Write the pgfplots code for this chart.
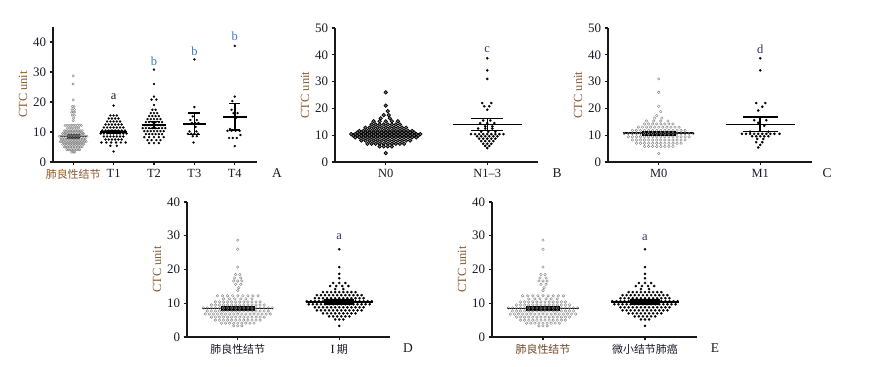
\documentclass[border=0pt]{standalone}
\usepackage{pgfplots}
\pgfplotsset{compat=1.18}
\usepackage{pgfplotstable}
\usepackage{fontspec}
\setmainfont{Liberation Serif}
\newfontfamily\cjk{Noto Sans CJK SC}
\definecolor{tickc}{HTML}{1A1A2A}
\definecolor{brownc}{HTML}{8A5A2E}
\definecolor{bluec}{HTML}{3A78C0}
\definecolor{navyc}{HTML}{2A3560}
\newcommand{\tf}{\fontsize{13}{14}\selectfont}
\newcommand{\lf}{\fontsize{12.5}{14}\selectfont}
\newcommand{\zh}[1]{{\fontsize{11}{12}\selectfont\cjk #1}}

% benign nodules (k = offset in hundredths of category spacing)
\pgfplotstableread[row sep=\\]{
k y\\
0 28.7\\ 0 26.0\\ 0 20.7\\
-2 18.5\\ 2 18.5\\ -3 17.5\\ 3 17.5\\ -4 16.6\\ 0 16.6\\ 4 16.6\\ -2 15.6\\ 3 15.6\\ 1 14.6\\ 0 13.8\\
-20 12.2\\ -15 12.2\\ -10 12.2\\ -5 12.2\\ 0 12.2\\ 5 12.2\\ 10 12.2\\ 15 12.2\\ 20 12.2\\
-14 11.3\\ -8 11.3\\ -3 11.3\\ 3 11.3\\ 8 11.3\\ 14 11.3\\
-22 10.4\\ -18 10.4\\ -14 10.4\\ -10 10.4\\ -6 10.4\\ -2 10.4\\ 2 10.4\\ 6 10.4\\ 10 10.4\\ 14 10.4\\ 18 10.4\\ 22 10.4\\
-26 9.5\\ -22 9.5\\ -18 9.5\\ -14 9.5\\ -10 9.5\\ -6 9.5\\ -2 9.5\\ 2 9.5\\ 6 9.5\\ 10 9.5\\ 14 9.5\\ 18 9.5\\ 22 9.5\\ 26 9.5\\
-34 8.6\\ -30 8.6\\ -26 8.6\\ -22 8.6\\ -18 8.6\\ -14 8.6\\ -10 8.6\\ -6 8.6\\ -2 8.6\\ 2 8.6\\ 6 8.6\\ 10 8.6\\ 14 8.6\\ 18 8.6\\ 22 8.6\\ 26 8.6\\ 30 8.6\\ 34 8.6\\
-30 7.7\\ -26 7.7\\ -22 7.7\\ -18 7.7\\ -14 7.7\\ -10 7.7\\ -6 7.7\\ -2 7.7\\ 2 7.7\\ 6 7.7\\ 10 7.7\\ 14 7.7\\ 18 7.7\\ 22 7.7\\ 26 7.7\\ 30 7.7\\
-32 6.8\\ -28 6.8\\ -24 6.8\\ -20 6.8\\ -16 6.8\\ -12 6.8\\ -8 6.8\\ -4 6.8\\ 0 6.8\\ 4 6.8\\ 8 6.8\\ 12 6.8\\ 16 6.8\\ 20 6.8\\ 24 6.8\\ 28 6.8\\ 32 6.8\\
-26 5.9\\ -22 5.9\\ -18 5.9\\ -14 5.9\\ -10 5.9\\ -6 5.9\\ -2 5.9\\ 2 5.9\\ 6 5.9\\ 10 5.9\\ 14 5.9\\ 18 5.9\\ 22 5.9\\ 26 5.9\\
-22 5.0\\ -18 5.0\\ -14 5.0\\ -10 5.0\\ -6 5.0\\ -2 5.0\\ 2 5.0\\ 6 5.0\\ 10 5.0\\ 14 5.0\\ 18 5.0\\ 22 5.0\\
-16 4.1\\ -12 4.1\\ -8 4.1\\ -4 4.1\\ 0 4.1\\ 4 4.1\\ 8 4.1\\ 12 4.1\\ 16 4.1\\
-4 3.3\\ 0 3.3\\ 4 3.3\\
}\benign

% stage I / small nodule lung cancer
\pgfplotstableread[row sep=\\]{
k y\\
0 26.0\\ 0 20.7\\ 0 18.7\\ 0 17.4\\
-6 16.0\\ 0 16.0\\ 6 16.0\\ -9 15.1\\ -3 15.1\\ 3 15.1\\ 9 15.1\\ -4 14.2\\ 4 14.2\\
-16 13.3\\ -12 13.3\\ -8 13.3\\ -4 13.3\\ 0 13.3\\ 4 13.3\\ 8 13.3\\ 12 13.3\\ 16 13.3\\
-22 12.4\\ -18 12.4\\ -14 12.4\\ -10 12.4\\ -6 12.4\\ -2 12.4\\ 2 12.4\\ 6 12.4\\ 10 12.4\\ 14 12.4\\ 18 12.4\\ 22 12.4\\
-24 11.5\\ -20 11.5\\ -16 11.5\\ -12 11.5\\ -8 11.5\\ -4 11.5\\ 0 11.5\\ 4 11.5\\ 8 11.5\\ 12 11.5\\ 16 11.5\\ 20 11.5\\ 24 11.5\\
-32 10.6\\ -28 10.6\\ -24 10.6\\ -20 10.6\\ -16 10.6\\ -12 10.6\\ -8 10.6\\ -4 10.6\\ 0 10.6\\ 4 10.6\\ 8 10.6\\ 12 10.6\\ 16 10.6\\ 20 10.6\\ 24 10.6\\ 28 10.6\\ 32 10.6\\
-30 9.7\\ -26 9.7\\ -22 9.7\\ -18 9.7\\ -14 9.7\\ -10 9.7\\ -6 9.7\\ -2 9.7\\ 2 9.7\\ 6 9.7\\ 10 9.7\\ 14 9.7\\ 18 9.7\\ 22 9.7\\ 26 9.7\\ 30 9.7\\
-24 8.8\\ -20 8.8\\ -16 8.8\\ -12 8.8\\ -8 8.8\\ -4 8.8\\ 0 8.8\\ 4 8.8\\ 8 8.8\\ 12 8.8\\ 16 8.8\\ 20 8.8\\ 24 8.8\\
-22 7.9\\ -18 7.9\\ -14 7.9\\ -10 7.9\\ -6 7.9\\ -2 7.9\\ 2 7.9\\ 6 7.9\\ 10 7.9\\ 14 7.9\\ 18 7.9\\ 22 7.9\\
-16 7.0\\ -12 7.0\\ -8 7.0\\ -4 7.0\\ 0 7.0\\ 4 7.0\\ 8 7.0\\ 12 7.0\\ 16 7.0\\
-10 6.1\\ -6 6.1\\ -2 6.1\\ 2 6.1\\ 6 6.1\\ 10 6.1\\
-4 5.2\\ 0 5.2\\ 4 5.2\\
0 3.3\\
}\stageone

% T1
\pgfplotstableread[row sep=\\]{
k y\\
0 18.8\\ -8 15.5\\ 0 15.5\\ 8 15.5\\ -12 14.5\\ -4 14.5\\ 4 14.5\\ 12 14.5\\
-16 13.5\\ -8 13.5\\ 0 13.5\\ 8 13.5\\ 16 13.5\\
-20 12.5\\ -12 12.5\\ -4 12.5\\ 4 12.5\\ 12 12.5\\ 20 12.5\\
-24 11.5\\ -16 11.5\\ -8 11.5\\ 0 11.5\\ 8 11.5\\ 16 11.5\\ 24 11.5\\
-28 10.5\\ -20 10.5\\ -12 10.5\\ -4 10.5\\ 4 10.5\\ 12 10.5\\ 20 10.5\\ 28 10.5\\
-32 9.5\\ -24 9.5\\ -16 9.5\\ -8 9.5\\ 0 9.5\\ 8 9.5\\ 16 9.5\\ 24 9.5\\ 32 9.5\\
-24 8.5\\ -16 8.5\\ -8 8.5\\ 0 8.5\\ 8 8.5\\ 16 8.5\\ 24 8.5\\
-20 7.5\\ -12 7.5\\ -4 7.5\\ 4 7.5\\ 12 7.5\\ 20 7.5\\
-30 6.5\\ -18 6.5\\ -6 6.5\\ 6 6.5\\ 18 6.5\\ 30 6.5\\
-8 5.4\\ 8 5.4\\ 0 3.5\\
}\tone

% T2
\pgfplotstableread[row sep=\\]{
k y\\
0 30.8\\ 0 26.0\\ 0 21.8\\ -6 20.8\\ 6 20.8\\ 0 19.0\\ -4 17.4\\ 4 17.4\\ -8 16.3\\ 0 16.3\\ 8 16.3\\
-12 15.3\\ -4 15.3\\ 4 15.3\\ 12 15.3\\
-16 14.3\\ -8 14.3\\ 0 14.3\\ 8 14.3\\ 16 14.3\\
-20 13.3\\ -12 13.3\\ -4 13.3\\ 4 13.3\\ 12 13.3\\ 20 13.3\\
-24 12.3\\ -16 12.3\\ -8 12.3\\ 0 12.3\\ 8 12.3\\ 16 12.3\\ 24 12.3\\
-28 11.3\\ -20 11.3\\ -12 11.3\\ -4 11.3\\ 4 11.3\\ 12 11.3\\ 20 11.3\\ 28 11.3\\
-24 10.3\\ -16 10.3\\ -8 10.3\\ 0 10.3\\ 8 10.3\\ 16 10.3\\ 24 10.3\\
-20 9.3\\ -12 9.3\\ -4 9.3\\ 4 9.3\\ 12 9.3\\ 20 9.3\\
-24 8.3\\ -12 8.3\\ 0 8.3\\ 12 8.3\\ 24 8.3\\
-16 7.3\\ -6 7.3\\ 6 7.3\\ 16 7.3\\
-12 6.3\\ 0 6.3\\ 12 6.3\\
}\ttwo

% T3
\pgfplotstableread[row sep=\\]{
k y\\
0 34.2\\ 0 18.3\\ -4 15.2\\ -10 14.0\\ 6 14.0\\ -6 13.0\\ 2 13.0\\ 10 13.0\\ 3 11.7\\
-12 10.2\\ 5 10.2\\ -16 9.4\\ -8 9.4\\ 0 9.4\\ 9 9.4\\ -4 8.6\\ 6 8.6\\ -2 6.5\\
}\tthree

% T4
\pgfplotstableread[row sep=\\]{
k y\\
0 38.7\\ 0 21.8\\ -6 20.3\\ -8 17.4\\ -3 16.3\\ 7 16.3\\ 2 14.6\\ -12 11.0\\
-18 10.4\\ -8 10.4\\ 2 10.4\\ 12 10.4\\ 14 9.0\\ -14 8.0\\ -5 8.0\\ 5 8.0\\ 0 5.3\\
}\tfour

% N0
\pgfplotstableread[row sep=\\]{
k y\\
0 26.0\\ 0 21.0\\ 2 19.0\\ -2 17.5\\ 3 17.5\\ -5 16.3\\ 4 16.3\\
-12 15.2\\ -6 15.2\\ 0 15.2\\ 6 15.2\\ 12 15.2\\
-14 14.0\\ -10 14.0\\ -6 14.0\\ -2 14.0\\ 2 14.0\\ 6 14.0\\ 10 14.0\\ 14 14.0\\
-20 12.8\\ -16 12.8\\ -12 12.8\\ -8 12.8\\ -4 12.8\\ 0 12.8\\ 4 12.8\\ 8 12.8\\ 12 12.8\\ 16 12.8\\ 20 12.8\\
-26 11.6\\ -22 11.6\\ -18 11.6\\ -14 11.6\\ -10 11.6\\ -6 11.6\\ -2 11.6\\ 2 11.6\\ 6 11.6\\ 10 11.6\\ 14 11.6\\ 18 11.6\\ 22 11.6\\ 26 11.6\\
-28 11.0\\ -24 11.0\\ -20 11.0\\ -16 11.0\\ -12 11.0\\ -8 11.0\\ -4 11.0\\ 0 11.0\\ 4 11.0\\ 8 11.0\\ 12 11.0\\ 16 11.0\\ 20 11.0\\ 24 11.0\\ 28 11.0\\
-34 10.4\\ -30 10.4\\ -26 10.4\\ -22 10.4\\ -18 10.4\\ -14 10.4\\ -10 10.4\\ -6 10.4\\ -2 10.4\\ 2 10.4\\ 6 10.4\\ 10 10.4\\ 14 10.4\\ 18 10.4\\ 22 10.4\\ 26 10.4\\ 30 10.4\\ 34 10.4\\
-32 9.8\\ -28 9.8\\ -24 9.8\\ -20 9.8\\ -16 9.8\\ -12 9.8\\ -8 9.8\\ -4 9.8\\ 0 9.8\\ 4 9.8\\ 8 9.8\\ 12 9.8\\ 16 9.8\\ 20 9.8\\ 24 9.8\\ 28 9.8\\ 32 9.8\\
-30 9.2\\ -26 9.2\\ -22 9.2\\ -18 9.2\\ -14 9.2\\ -10 9.2\\ -6 9.2\\ -2 9.2\\ 2 9.2\\ 6 9.2\\ 10 9.2\\ 14 9.2\\ 18 9.2\\ 22 9.2\\ 26 9.2\\ 30 9.2\\
-24 8.0\\ -20 8.0\\ -16 8.0\\ -12 8.0\\ -8 8.0\\ -4 8.0\\ 0 8.0\\ 4 8.0\\ 8 8.0\\ 12 8.0\\ 16 8.0\\ 20 8.0\\ 24 8.0\\
-18 6.8\\ -14 6.8\\ -10 6.8\\ -6 6.8\\ -2 6.8\\ 2 6.8\\ 6 6.8\\ 10 6.8\\ 14 6.8\\ 18 6.8\\
-6 5.8\\ -2 5.8\\ 2 5.8\\ 6 5.8\\ 0 3.3\\
}\nzero

% N1-3
\pgfplotstableread[row sep=\\]{
k y\\
0 38.7\\ 0 34.2\\ 0 31.0\\ -5 22.0\\ 4 22.0\\ -3 20.8\\ 2 20.8\\ 0 19.5\\
-4 15.5\\ 3 15.5\\ -7 14.5\\ 0 14.5\\ 7 14.5\\ -2 13.3\\ 5 13.3\\ -9 12.5\\ -2 12.5\\ 5 12.5\\
-6 11.3\\ 1 11.3\\ 8 11.3\\
-16 10.4\\ -12 10.4\\ -8 10.4\\ -4 10.4\\ 0 10.4\\ 4 10.4\\ 8 10.4\\ 12 10.4\\ 16 10.4\\
-10 9.6\\ -6 9.6\\ -2 9.6\\ 2 9.6\\ 6 9.6\\ 10 9.6\\
-8 8.7\\ -4 8.7\\ 0 8.7\\ 4 8.7\\ 8 8.7\\
-6 7.8\\ -2 7.8\\ 2 7.8\\ 6 7.8\\ -4 6.8\\ 0 6.8\\ 4 6.8\\ -2 6.0\\ 2 6.0\\ 0 5.2\\
}\nonethree

% M0
\pgfplotstableread[row sep=\\]{
k y\\
0 31.0\\ 0 26.0\\ 0 20.8\\ 2 18.8\\ -2 17.3\\ -4 16.4\\ 3 16.4\\
-12 15.3\\ -5 15.3\\ 2 15.3\\ 9 15.3\\
-14 14.2\\ -10 14.2\\ -6 14.2\\ -2 14.2\\ 2 14.2\\ 6 14.2\\ 10 14.2\\ 14 14.2\\
-20 13.0\\ -16 13.0\\ -12 13.0\\ -8 13.0\\ -4 13.0\\ 0 13.0\\ 4 13.0\\ 8 13.0\\ 12 13.0\\ 16 13.0\\ 20 13.0\\
-26 11.8\\ -22 11.8\\ -18 11.8\\ -14 11.8\\ -10 11.8\\ -6 11.8\\ -2 11.8\\ 2 11.8\\ 6 11.8\\ 10 11.8\\ 14 11.8\\ 18 11.8\\ 22 11.8\\ 26 11.8\\
-34 10.6\\ -30 10.6\\ -26 10.6\\ -22 10.6\\ -18 10.6\\ -14 10.6\\ -10 10.6\\ -6 10.6\\ -2 10.6\\ 2 10.6\\ 6 10.6\\ 10 10.6\\ 14 10.6\\ 18 10.6\\ 22 10.6\\ 26 10.6\\ 30 10.6\\ 34 10.6\\
-30 9.4\\ -26 9.4\\ -22 9.4\\ -18 9.4\\ -14 9.4\\ -10 9.4\\ -6 9.4\\ -2 9.4\\ 2 9.4\\ 6 9.4\\ 10 9.4\\ 14 9.4\\ 18 9.4\\ 22 9.4\\ 26 9.4\\ 30 9.4\\
-26 8.2\\ -22 8.2\\ -18 8.2\\ -14 8.2\\ -10 8.2\\ -6 8.2\\ -2 8.2\\ 2 8.2\\ 6 8.2\\ 10 8.2\\ 14 8.2\\ 18 8.2\\ 22 8.2\\ 26 8.2\\
-22 7.0\\ -18 7.0\\ -14 7.0\\ -10 7.0\\ -6 7.0\\ -2 7.0\\ 2 7.0\\ 6 7.0\\ 10 7.0\\ 14 7.0\\ 18 7.0\\ 22 7.0\\
-14 5.8\\ -10 5.8\\ -6 5.8\\ -2 5.8\\ 2 5.8\\ 6 5.8\\ 10 5.8\\ 14 5.8\\
0 3.2\\
}\mzero

% M1
\pgfplotstableread[row sep=\\]{
k y\\
0 38.7\\ 0 34.2\\ -4 22.0\\ 5 22.0\\ 2 20.6\\ -2 19.2\\
-6 15.6\\ 6 15.6\\ -2 14.6\\ 4 13.5\\ -10 11.3\\ 8 11.3\\
-18 10.5\\ -14 10.5\\ -10 10.5\\ -6 10.5\\ -2 10.5\\ 2 10.5\\ 6 10.5\\ 10 10.5\\ 14 10.5\\ 19 10.5\\
-8 9.6\\ -4 9.6\\ 0 9.6\\ 4 9.6\\ 8 9.6\\ -3 8.6\\ 3 8.6\\ -4 7.4\\ 2 7.4\\ 0 6.4\\ -2 5.4\\
}\mone

\pgfplotsset{
  panel/.style={
    scale only axis, clip=false,
    axis x line*=bottom, axis y line*=left,
    axis line style={line width=1.2pt, black!90},
    tick style={line width=1.2pt, black!90},
    tick align=outside, major tick length=3.5pt,
    ymin=0, enlargelimits=false,
    tick label style={font=\tf, text=tickc},
    /pgf/number format/assume math mode=true,
    yticklabel={\tf\pgfmathprintnumber{\tick}},
    ylabel={\lf CTC unit},
    every axis y label/.style={at={([xshift=-30bp]axis description cs:0,0.5)}, rotate=90, anchor=center, font=\lf, text=brownc},
  },
  opencirc/.style={only marks, mark=o, mark size=1.3pt, mark options={draw=black!50, line width=0.4pt, fill=white}},
  opencircA/.style={only marks, mark=o, mark size=1.2pt, mark options={draw=black!50, line width=0.4pt, fill=white}},
  bdot/.style={only marks, mark=*, mark size=1.2pt, mark options={draw=black, fill=black, line width=0.2pt}},
  bdotA/.style={only marks, mark=*, mark size=1.1pt, mark options={draw=black, fill=black, line width=0.2pt}},
  ringdot/.style={only marks, mark=*, mark size=1.75pt, mark options={draw=black, fill=black!55, line width=0.7pt}},
  meanl/.style={black, line width=1.5pt, no marks, unbounded coords=jump},
  semfill/.style={fill=black, draw=black, line width=0.8pt, no marks},
}

\begin{document}
\begin{tikzpicture}
\path[use as bounding box] (0,0) rectangle (871bp,367bp);

% ---------- A ----------
\begin{axis}[panel, at={(53bp,205bp)}, anchor=south west, width=204bp, height=135bp,
  xmin=-0.5, xmax=4.55, ymax=45, ytick={0,10,20,30,40}, xtick={0,1,2,3,4},
  xticklabels={{\textcolor{brownc}{\zh{肺良性结节}}},{\lf T1},{\lf T2},{\lf T3},{\lf T4}}]
\addplot[opencircA] table[x expr=\thisrow{k}/100, y=y]{\benign};
\addplot[bdotA] table[x expr=\thisrow{k}/100+1, y=y]{\tone};
\addplot[bdotA] table[x expr=\thisrow{k}/100+2, y=y]{\ttwo};
\addplot[bdotA] table[x expr=\thisrow{k}/100+3, y=y]{\tthree};
\addplot[bdotA] table[x expr=\thisrow{k}/100+4, y=y]{\tfour};
\addplot[semfill] coordinates {(-0.15,8.0) (0.15,8.0) (0.15,9.2) (-0.15,9.2)} -- cycle;
\addplot[semfill] coordinates {(0.85,9.5) (1.15,9.5) (1.15,10.6) (0.85,10.6)} -- cycle;
\addplot[meanl] coordinates {(-0.33,8.5) (0.33,8.5)};
\addplot[meanl] coordinates {(0.67,10.0) (1.33,10.0)};
\addplot[meanl] coordinates {(1.7,12.3) (2.3,12.3) (2,nan) (2,11.2) (2,13.5) (2,nan) (1.85,11.2) (2.15,11.2) (2,nan) (1.85,13.5) (2.15,13.5)};
\addplot[meanl] coordinates {(2.72,12.7) (3.28,12.7) (3,nan) (3,9.2) (3,16.3) (3,nan) (2.85,9.2) (3.15,9.2) (3,nan) (2.85,16.3) (3.15,16.3)};
\addplot[meanl] coordinates {(3.7,15.0) (4.3,15.0) (4,nan) (4,10.7) (4,19.5) (4,nan) (3.86,10.7) (4.14,10.7) (4,nan) (3.86,19.5) (4.14,19.5)};
\node[text=tickc] at (axis cs:1,21.8) {\lf a};
\node[text=bluec] at (axis cs:2,33.7) {\lf b};
\node[text=bluec] at (axis cs:3,37.0) {\lf b};
\node[text=bluec] at (axis cs:4,41.8) {\lf b};
\end{axis}

% ---------- B ----------
\begin{axis}[panel, at={(335bp,205bp)}, anchor=south west, width=203bp, height=134bp,
  xmin=-0.5, xmax=1.5, ymax=50, ytick={0,10,20,30,40,50}, xtick={0,1},
  xticklabels={{\lf N0},{\lf N1--3}}]
\addplot[ringdot] table[x expr=\thisrow{k}/100, y=y]{\nzero};
\addplot[bdot] table[x expr=\thisrow{k}/100+1, y=y]{\nonethree};
\addplot[meanl] coordinates {(-0.35,10.4) (0.35,10.4) (0,nan) (0,9.9) (0,10.9) (0,nan) (-0.17,9.9) (0.17,9.9) (0,nan) (-0.17,10.9) (0.17,10.9)};
\addplot[meanl] coordinates {(0.66,14.0) (1.34,14.0) (1,nan) (1,11.8) (1,16.3) (1,nan) (0.84,11.8) (1.16,11.8) (1,nan) (0.84,16.3) (1.16,16.3)};
\node[text=navyc] at (axis cs:1,41.8) {\lf c};
\end{axis}

% ---------- C ----------
\begin{axis}[panel, at={(608bp,205bp)}, anchor=south west, width=204bp, height=134bp,
  xmin=-0.5, xmax=1.51, ymax=50, ytick={0,10,20,30,40,50}, xtick={0,1},
  xticklabels={{\lf M0},{\lf M1}}]
\addplot[opencirc] table[x expr=\thisrow{k}/100, y=y]{\mzero};
\addplot[bdot] table[x expr=\thisrow{k}/100+1, y=y]{\mone};
\addplot[semfill] coordinates {(-0.16,10.1) (0.16,10.1) (0.16,11.6) (-0.16,11.6)} -- cycle;
\addplot[meanl] coordinates {(-0.35,10.8) (0.35,10.8)};
\addplot[meanl] coordinates {(0.66,14.0) (1.34,14.0) (1,nan) (1,11.3) (1,16.8) (1,nan) (0.83,11.3) (1.17,11.3) (1,nan) (0.83,16.8) (1.17,16.8)};
\node[text=navyc] at (axis cs:1,42.2) {\lf d};
\end{axis}

% ---------- D ----------
\begin{axis}[panel, at={(187bp,30bp)}, anchor=south west, width=203bp, height=135bp,
  xmin=-0.5, xmax=1.5, ymax=40, ytick={0,10,20,30,40}, xtick={0,1},
  xticklabels={{\zh{肺良性结节}},{\lf I\,\zh{期}}}]
\addplot[opencirc] table[x expr=\thisrow{k}/100, y=y]{\benign};
\addplot[bdot] table[x expr=\thisrow{k}/100+1, y=y]{\stageone};
\addplot[semfill] coordinates {(-0.16,8.0) (0.16,8.0) (0.16,9.2) (-0.16,9.2)} -- cycle;
\addplot[meanl] coordinates {(-0.35,8.5) (0.35,8.5)};
\addplot[meanl] coordinates {(0.67,10.4) (1.33,10.4) (1,nan) (1,9.8) (1,11.0) (1,nan) (0.85,9.8) (1.15,9.8) (1,nan) (0.85,11.0) (1.15,11.0)};
\node[text=navyc] at (axis cs:1,29.6) {\lf a};
\end{axis}

% ---------- E ----------
\begin{axis}[panel, at={(492bp,30bp)}, anchor=south west, width=205bp, height=135bp,
  xmin=-0.5, xmax=1.51, ymax=40, ytick={0,10,20,30,40}, xtick={0,1},
  xticklabels={{\textcolor{brownc!80!black}{\zh{肺良性结节}}},{\zh{微小结节肺癌}}}]
\addplot[opencirc] table[x expr=\thisrow{k}/100, y=y]{\benign};
\addplot[bdot] table[x expr=\thisrow{k}/100+1, y=y]{\stageone};
\addplot[semfill] coordinates {(-0.16,8.0) (0.16,8.0) (0.16,9.2) (-0.16,9.2)} -- cycle;
\addplot[meanl] coordinates {(-0.35,8.5) (0.35,8.5)};
\addplot[meanl] coordinates {(0.67,10.4) (1.33,10.4) (1,nan) (1,9.8) (1,11.0) (1,nan) (0.85,9.8) (1.15,9.8) (1,nan) (0.85,11.0) (1.15,11.0)};
\node[text=navyc] at (axis cs:1,29.3) {\lf a};
\end{axis}

% panel letters
\node[text=tickc] at (277bp,194bp) {\fontsize{13.5}{14}\selectfont A};
\node[text=tickc] at (557bp,194bp) {\fontsize{13.5}{14}\selectfont B};
\node[text=tickc] at (827bp,194bp) {\fontsize{13.5}{14}\selectfont C};
\node[text=tickc] at (408bp,19bp) {\fontsize{13.5}{14}\selectfont D};
\node[text=tickc] at (715bp,19bp) {\fontsize{13.5}{14}\selectfont E};
\end{tikzpicture}
\end{document}
